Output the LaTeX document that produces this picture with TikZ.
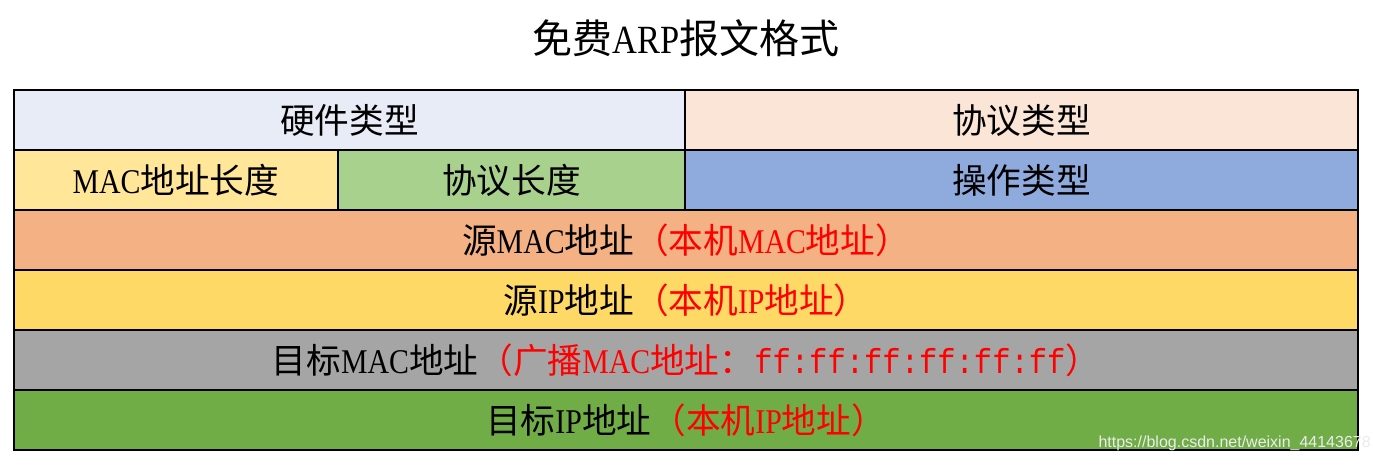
\documentclass[tikz,border=0pt]{standalone}
\usepackage{fontspec}
\setmainfont{Liberation Serif}[FakeStretch=0.86]
\newfontfamily\cjk{Noto Sans CJK SC}
\newfontfamily\monof{Liberation Mono}[FakeStretch=0.88]
\newfontfamily\wmfont{Liberation Sans}
\definecolor{cHW}{RGB}{232,236,246}
\definecolor{cPT}{RGB}{251,229,214}
\definecolor{cML}{RGB}{255,230,153}
\definecolor{cPL}{RGB}{169,209,142}
\definecolor{cOP}{RGB}{143,170,220}
\definecolor{cSM}{RGB}{244,177,131}
\definecolor{cSI}{RGB}{255,217,102}
\definecolor{cTM}{RGB}{165,165,165}
\definecolor{cTI}{RGB}{112,173,71}
\definecolor{cRed}{RGB}{255,0,0}
\tikzset{
  cell/.style={draw=black, line width=1.3pt, inner sep=0pt, minimum height=45pt,
    font=\fontsize{26}{30}\selectfont},
}
\newcommand{\rt}[1]{\textcolor{cRed}{#1}}
\begin{document}
\begin{tikzpicture}[x=0.75pt,y=-0.75pt]
\useasboundingbox[fill=white] (0,0) rectangle (1373,464);
\node[font=\fontsize{30}{34}\selectfont] (title) at (686,38) {{\cjk 免费}ARP{\cjk 报文格式}};
\node[cell, fill=cHW, minimum width=503.25pt] (hw) at (349.5,120) {\cjk 硬件类型};
\node[cell, fill=cPT, minimum width=504.75pt] (pt) at (1021.5,120) {\cjk 协议类型};
\node[cell, fill=cML, minimum width=243pt] (ml) at (176,180) {MAC{\cjk 地址长度}};
\node[cell, fill=cPL, minimum width=260.25pt] (pl) at (511.5,180) {\cjk 协议长度};
\node[cell, fill=cOP, minimum width=504.75pt] (op) at (1021.5,180) {\cjk 操作类型};
\node[cell, fill=cSM, minimum width=1008pt] (sm) at (686,240) {{\cjk 源}MAC{\cjk 地址}\rt{{\cjk （本机}MAC{\cjk 地址）}}};
\node[cell, fill=cSI, minimum width=1008pt] (si) at (686,300) {{\cjk 源}IP{\cjk 地址}\rt{{\cjk （本机}IP{\cjk 地址）}}};
\node[cell, fill=cTM, minimum width=1008pt] (tm) at (686,360) {{\cjk 目标}MAC{\cjk 地址}\rt{{\cjk （广播}MAC{\cjk 地址：}{\monof ff:ff:ff:ff:ff:ff}{\cjk ）}}};
\node[cell, fill=cTI, minimum width=1008pt] (ti) at (686,420) {{\cjk 目标}IP{\cjk 地址}\rt{{\cjk （本机}IP{\cjk 地址）}}};
\node[anchor=east, inner sep=0pt, text=white!85!gray, font=\wmfont\fontsize{12}{14}\selectfont] (wm) at (1371,443) {https://blog.csdn.net/weixin\_44143678};
\end{tikzpicture}
\end{document}
